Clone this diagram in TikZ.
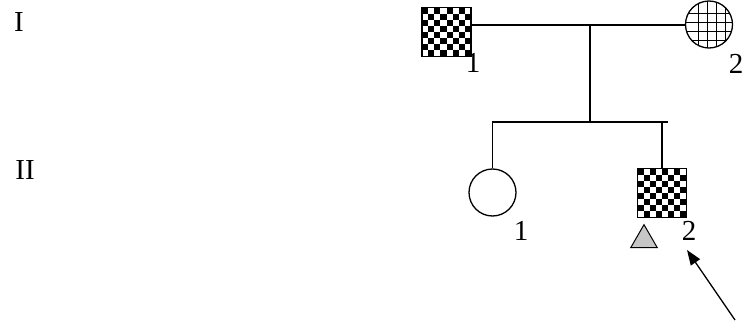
\documentclass[tikz,border=0pt]{standalone}
\usepackage{fontspec}
\setmainfont{Liberation Serif}
\usetikzlibrary{arrows.meta,positioning,shapes.geometric}
\tikzset{pedigree/.style={
  x=1pt,y=-1pt,
  line width=1.3pt,line join=miter,
  >={Triangle[length=15pt,width=11pt]}
}}
\tikzset{
  male/.style={draw,rectangle,minimum size=49pt,inner sep=0pt},
  female/.style={draw,circle,minimum size=47pt,inner sep=0pt},
  checker/.style={path picture={
    \foreach \i in {0,...,7}{\foreach \j in {0,...,7}{
      \pgfmathtruncatemacro\cellpar{mod(\i+\j,2)}
      \ifnum\cellpar=0
        \fill[black] ([xshift=\i*6.125pt,yshift=-\j*6.125pt]path picture bounding box.north west)
          rectangle ++(6.125pt,-6.125pt);
      \fi}}}},
  hatched/.style={path picture={
    \foreach \d in {-11,-2,7,16}{
      \draw[line width=0.9pt] ([xshift=\d pt]path picture bounding box.north) -- ([xshift=\d pt]path picture bounding box.south);
      \draw[line width=0.9pt] ([yshift=-\d pt]path picture bounding box.west) -- ([yshift=-\d pt]path picture bounding box.east);}}},
  gen/.style={font=\fontsize{29}{32}\selectfont,inner sep=0pt},
  num/.style={font=\fontsize{29}{32}\selectfont,inner sep=0pt}
}

\begin{document}
\begin{tikzpicture}[pedigree]
  \useasboundingbox (0,0) rectangle (745,324);
  % generations
  \node[gen] (genI) at (19,22) {I};
  \node[gen] (genII) at (25,170) {II};
  % parents
  \node[male,checker] (I1) at (446.5,32) {};
  \node[female,hatched] (I2) at (709,24.5) {};
  \node[num] (nI1) at (473,63) {1};
  \node[num] (nI2) at (736,64) {2};
  \coordinate (mate) at (590,25);
  \coordinate (sib) at (590,122);
  \coordinate (sibend) at (668,122);
  \draw (I1.east |- mate) -- (I2.west |- mate);
  \draw (mate) -- (sib);
  % children
  \node[female] (II1) at (492.5,192.5) {};
  \node[male,checker] (II2) at (662,193) {};
  \node[num] (nII1) at (521,231) {1};
  \node[num] (nII2) at (689,231) {2};
  \draw (II1.north) -- (II1.north |- sib) -- (sibend);
  \draw (II2.north) -- (II2.north |- sib);
  % proband
  \node[draw,fill=gray!45,line width=1pt,isosceles triangle,isosceles triangle apex angle=60,shape border rotate=90,minimum height=23pt,inner sep=0pt] (tri) at (644,240) {};
  \coordinate (tail) at (735,320);
  \coordinate (tip) at (687,250);
  \draw[->] (tail) -- (tip);
\end{tikzpicture}
\end{document}
